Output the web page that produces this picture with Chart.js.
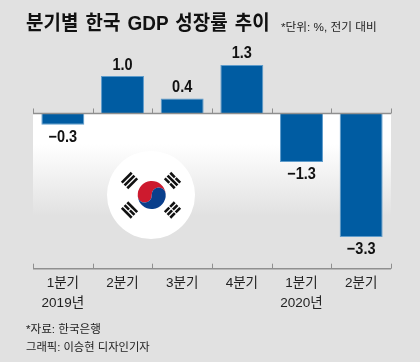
<!DOCTYPE html>
<html>
<head>
<meta charset="utf-8">
<script src="https://cdn.jsdelivr.net/npm/chart.js@4/dist/chart.umd.min.js"></script>
<style>
  html, body { margin: 0; padding: 0; background: #e1e1e1; }
  #wrap { position: relative; width: 420px; height: 362px; overflow: hidden; font-family: "Liberation Sans", "Noto Sans CJK KR", sans-serif; color: #111; }
  canvas { position: absolute; left: 0; top: 0; }
  .txt { position: absolute; white-space: nowrap; line-height: 1; }
  #title { left: 26px; top: 13px; font-size: 20.5px; font-weight: 700; word-spacing: 2px; transform: scaleX(0.925); transform-origin: left top; }
  #unit { left: 281px; top: 21px; font-size: 11.7px; color: #222; }
  #source { left: 26px; top: 323px; font-size: 11.6px; color: #222; }
  #credit { left: 26px; top: 342px; font-size: 11.3px; color: #222; }
  #flag { position: absolute; left: 107px; top: 151px; }
</style>
</head>
<body>
<div id="wrap">
  <canvas id="chart" width="420" height="362"></canvas>
  <svg id="flag" width="88" height="88" viewBox="-44 -44 88 88"></svg>
  <div class="txt" id="title">분기별 한국 GDP 성장률 추이</div>
  <div class="txt" id="unit">*단위: %, 전기 대비</div>
  <div class="txt" id="source">*자료: 한국은행</div>
  <div class="txt" id="credit">그래픽: 이승현 디자인기자</div>
</div>
<script>
const quarters = [["1분기", "2019년"], ["2분기", ""], ["3분기", ""], ["4분기", ""], ["1분기", "2020년"], ["2분기", ""]]
const growth = [-0.3, 1.0, 0.4, 1.3, -1.3, -3.3]
const valueLabels = ["−0.3", "1.0", "0.4", "1.3", "−1.3", "−3.3"]

const barColor = "#005ca2"
const barEdge = "#5f9ccb"
const axisColor = "#8f8f8f"

// white fade under the zero line
const panelPlugin = {
  id: "panel",
  beforeDatasetsDraw(chart) {
    const ctx = chart.ctx
    const area = chart.chartArea
    const zero = chart.scales.y.getPixelForValue(0)
    const grad = ctx.createLinearGradient(0, zero, 0, 216)
    grad.addColorStop(0, "#ffffff")
    grad.addColorStop(0.3, "#ffffff")
    grad.addColorStop(1, "#e1e1e1")
    ctx.save()
    ctx.fillStyle = grad
    ctx.fillRect(area.left, zero, area.right - area.left, 216 - zero)
    ctx.restore()
  }
}

// both baselines with tick marks between categories
const axisPlugin = {
  id: "axisLines",
  afterDatasetsDraw(chart) {
    const ctx = chart.ctx
    const area = chart.chartArea
    const lines = [chart.scales.y.getPixelForValue(0), area.bottom]
    ctx.save()
    ctx.strokeStyle = axisColor
    lines.forEach(y => {
      ctx.lineWidth = 1.5
      ctx.beginPath()
      ctx.moveTo(area.left, y)
      ctx.lineTo(area.right, y)
      ctx.stroke()
      ctx.lineWidth = 1
      const step = (area.right - area.left) / quarters.length
      for (let i = 0; i <= quarters.length; i++) {
        const x = Math.round(area.left + step * i) + 0.5
        ctx.beginPath()
        ctx.moveTo(x, y)
        ctx.lineTo(x, y - 5)
        ctx.stroke()
      }
    })
    ctx.restore()
  }
}

const valueLabelPlugin = {
  id: "valueLabels",
  afterDraw(chart) {
    const ctx = chart.ctx
    const bars = chart.getDatasetMeta(0).data
    ctx.save()
    ctx.font = "bold 16.5px 'Liberation Sans'"
    ctx.fillStyle = "#111"
    ctx.textAlign = "center"
    ctx.textBaseline = "middle"
    bars.forEach((bar, i) => {
      const offset = growth[i] < 0 ? 12.5 : -11
      ctx.save()
      ctx.translate(bar.x, bar.y + offset)
      ctx.scale(0.88, 1)
      ctx.fillText(valueLabels[i], 0, 0)
      ctx.restore()
    })
    ctx.restore()
  }
}

new Chart(document.getElementById("chart"), {
  type: "bar",
  data: {
    labels: quarters,
    datasets: [{
      data: growth,
      backgroundColor: barColor,
      borderColor: barEdge,
      borderWidth: 1,
      barPercentage: 0.72,
      categoryPercentage: 1,
    }],
  },
  options: {
    responsive: false,
    animation: false,
    layout: { padding: { left: 33, right: 29, top: 38.7, bottom: 0 } },
    plugins: { legend: { display: false }, tooltip: { enabled: false } },
    scales: {
      x: {
        grid: { display: false },
        border: { display: false },
        afterFit(scale) { scale.height = 93.3 },
        ticks: {
          color: "#222",
          padding: -3,
          maxRotation: 0,
          autoSkip: false,
          font: { family: "'Liberation Sans', 'Noto Sans CJK KR'", size: 13.5, lineHeight: 1.48 },
        },
      },
      y: { display: false, min: -4.15, max: 2 },
    },
  },
  plugins: [panelPlugin, axisPlugin, valueLabelPlugin],
})

// flag badge
function drawFlag(svg) {
  const parts = ['<circle r="44" fill="#fff"/>',
    '<g transform="translate(0.7 0) rotate(-5)">',
    '<path d="M-14 0A14 14 0 0 1 14 0A7 7 0 0 0 0 0A7 7 0 0 1 -14 0Z" fill="#cd1a2e"/>',
    '<path d="M-14 0A14 14 0 0 0 14 0A7 7 0 0 0 0 0A7 7 0 0 1 -14 0Z" fill="#0a3f8c"/>',
    '</g>']
  const marks = [[-21.5, -14.5, -45, [0, 0, 0]], [21.5, -14.5, 45, [1, 0, 1]], [-21.5, 15, 45, [0, 1, 0]], [21.5, 15, -45, [1, 1, 1]]]
  marks.forEach(([x, y, angle, broken]) => {
    parts.push('<g transform="translate(' + x + ' ' + y + ') rotate(' + angle + ')" fill="#111">')
    broken.forEach((gap, i) => {
      const ly = -5.2 + i * 3.9
      if (gap) {
        parts.push('<rect x="-7" y="' + ly + '" width="6.4" height="2.6"/><rect x="0.6" y="' + ly + '" width="6.4" height="2.6"/>')
      } else {
        parts.push('<rect x="-7" y="' + ly + '" width="14" height="2.6"/>')
      }
    })
    parts.push('</g>')
  })
  svg.innerHTML = parts.join("")
}
drawFlag(document.getElementById("flag"))
</script>
</body>
</html>
